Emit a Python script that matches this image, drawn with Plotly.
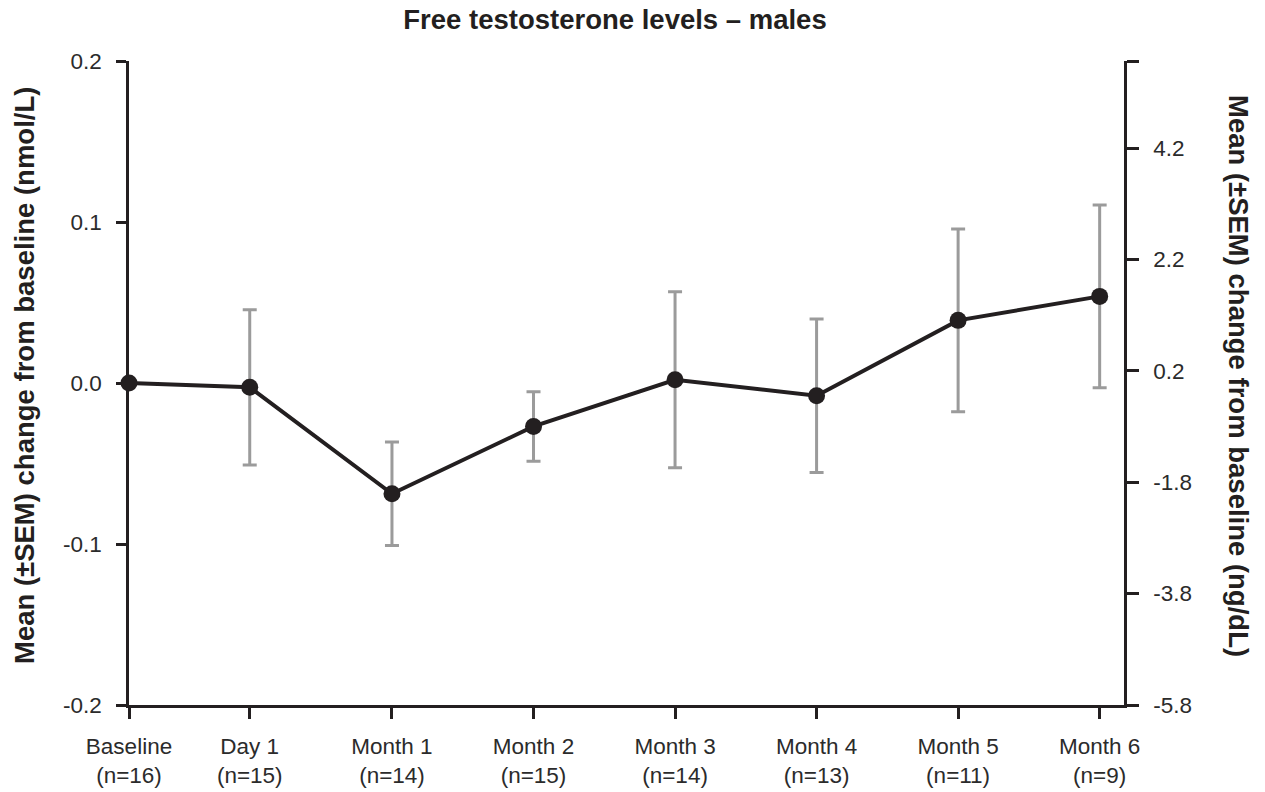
import plotly.graph_objects as go

# ---- data ----
categories = ["Baseline<br>(n=16)", "Day 1<br>(n=15)", "Month 1<br>(n=14)", "Month 2<br>(n=15)",
              "Month 3<br>(n=14)", "Month 4<br>(n=13)", "Month 5<br>(n=11)", "Month 6<br>(n=9)"]
x_pos = [0, 0.853, 1.858, 2.858, 3.858, 4.858, 5.858, 6.858]
mean_change = [0.0, -0.0027, -0.0688, -0.0270, 0.0020, -0.0079, 0.0389, 0.0538]
sem = [0.0, 0.0482, 0.0321, 0.0216, 0.0547, 0.0477, 0.0567, 0.0567]

left_ticks = [-0.2, -0.1, 0.0, 0.1, 0.2]
left_labels = ["-0.2", "-0.1", "0.0", "0.1", "0.2"]
right_ticks = [-5.8, -3.8, -1.8, 0.2, 2.2, 4.2, 5.762]
right_labels = ["-5.8", "-3.8", "-1.8", "0.2", "2.2", "4.2", ""]

INK = "#231f20"
FONT = "Liberation Sans, Arial, sans-serif"

fig = go.Figure()
fig.add_trace(go.Scatter(
    x=x_pos, y=mean_change, mode="lines+markers",
    line=dict(color=INK, width=4),
    marker=dict(color=INK, size=17),
    error_y=dict(type="data", array=sem, visible=True, color="#9b9b9b", thickness=3, width=7),
    cliponaxis=False, showlegend=False, hoverinfo="skip",
))
fig.add_trace(go.Scatter(x=[None], y=[None], yaxis="y2", showlegend=False, hoverinfo="skip"))

axis_common = dict(showline=True, linecolor=INK, linewidth=2.5, ticks="outside",
                   tickcolor=INK, tickwidth=2.5, showgrid=False, zeroline=False,
                   automargin=False,
                   tickfont=dict(family=FONT, size=22.5, color="#2b2b2b"))

fig.update_layout(
    width=1265, height=792,
    margin=dict(l=129, r=141, t=61, b=87, autoexpand=False),
    paper_bgcolor="white", plot_bgcolor="white",
    title=dict(text="<b>Free testosterone levels – males</b>", x=615/1265, xref="container",
               xanchor="center", y=1 - 19/792, yref="container", yanchor="middle",
               font=dict(family=FONT, size=27.5, color=INK), automargin=False),
    xaxis=dict(range=[0, 7.03], tickmode="array", tickvals=x_pos, ticktext=categories,
               ticklen=11, ticklabelstandoff=8, **axis_common),
    yaxis=dict(range=[-0.2, 0.2], tickmode="array", tickvals=left_ticks, ticktext=left_labels,
               ticklen=10, ticklabelstandoff=10, **axis_common),
    yaxis2=dict(range=[-5.8, 5.762], overlaying="y", side="right", anchor="x",
                tickmode="array", tickvals=right_ticks, ticktext=right_labels,
                ticklen=12, ticklabelstandoff=10, **axis_common),
    annotations=[
        dict(text="<b>Mean (±SEM) change from baseline (nmol/L)</b>", xref="paper", yref="paper",
             x=(25 - 129) / 995, y=(705 - 376) / 644, textangle=-90, showarrow=False,
             xanchor="center", yanchor="middle", font=dict(family=FONT, size=27.5, color=INK)),
        dict(text="<b>Mean (±SEM) change from baseline (ng/dL)</b>", xref="paper", yref="paper",
             x=(1238 - 129) / 995, y=(705 - 376) / 644, textangle=90, showarrow=False,
             xanchor="center", yanchor="middle", font=dict(family=FONT, size=27.5, color=INK)),
    ],
)

fig.write_html("out.html")
